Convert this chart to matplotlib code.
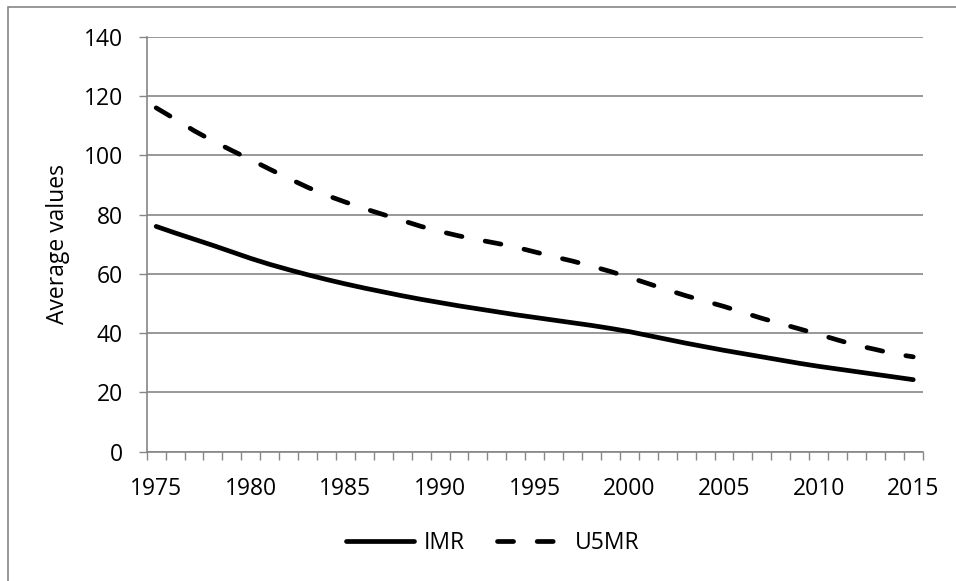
import numpy as np
import matplotlib
matplotlib.use("Agg")
import matplotlib.pyplot as plt
from matplotlib.patches import Rectangle

plt.rcParams['font.family'] = ['Open Sans', 'DejaVu Sans']

# dati
years = list(range(1975, 2016))
imr = [76, 73.8, 71.7, 69.6, 67.4, 65.2, 63.2, 61.4, 59.7, 58.1,
       56.6, 55.2, 53.9, 52.6, 51.4, 50.3, 49.2, 48.2, 47.2, 46.2,
       45.3, 44.4, 43.5, 42.6, 41.6, 40.5, 39.2, 37.9, 36.6, 35.4,
       34.2, 33.1, 32.0, 30.9, 29.8, 28.8, 27.9, 27.0, 26.1, 25.2,
       24.3]
u5mr = [116, 112.2, 108.3, 104.8, 101.6, 98.5, 95.3, 92.2, 89.2, 86.5,
        84.2, 82.0, 80.0, 78.0, 76.0, 74.3, 72.8, 71.5, 70.3, 69.0,
        67.4, 65.8, 64.3, 62.6, 60.8, 58.8, 56.7, 54.6, 52.6, 50.8,
        49.0, 47.0, 45.0, 43.2, 41.4, 39.6, 37.7, 35.9, 34.5, 33.0,
        32.0]
xlabels = [1975, 1980, 1985, 1990, 1995, 2000, 2005, 2010, 2015]
yticks = [0, 20, 40, 60, 80, 100, 120, 140]

grey = '#868686'
fs = 16.5

fig = plt.figure(figsize=(9.56, 5.81), dpi=100)
ax = fig.add_axes([146.7/956, 1-451.7/581, (922.7-146.7)/956, (451.7-36.7)/581])

# bordo del grafico
fig.patches.append(Rectangle((8/956, -0.1), 1.2, 1.1 - 7/581, transform=fig.transFigure,
                             fill=False, edgecolor=grey, linewidth=1.2))

ax.plot(years, imr, color='black', lw=3.4, solid_capstyle='round', label='IMR')
ax.plot(years, u5mr, color='black', lw=3.4, dashes=(3.4, 5.0), dash_capstyle='round', label='U5MR')

ax.set_xlim(1974.5, 2015.5)
ax.set_ylim(0, 140)
ax.set_yticks(yticks)
ax.set_xticks(xlabels)
ax.set_xticks(np.arange(1974.5, 2016, 1), minor=True)
ax.tick_params(axis='x', which='major', length=0, pad=18, labelsize=fs)
ax.tick_params(axis='x', which='minor', length=6, width=1, color=grey, direction='out')
ax.tick_params(axis='y', length=6, width=1, color=grey, pad=11, labelsize=fs)
ax.yaxis.grid(True, color=grey, lw=1.2)
ax.set_axisbelow(True)
for s in ['top', 'right']:
    ax.spines[s].set_visible(False)
for s in ['left', 'bottom']:
    ax.spines[s].set_color(grey)
    ax.spines[s].set_linewidth(1.2)

ax.set_ylabel('Average values', fontsize=fs, labelpad=10)

fig.legend(loc='center', bbox_to_anchor=(0.515, 1-543/581), ncol=2, frameon=False,
           fontsize=fs, handlelength=3.0, columnspacing=1.4, handletextpad=0.4)

fig.savefig('out.png', dpi=100)
